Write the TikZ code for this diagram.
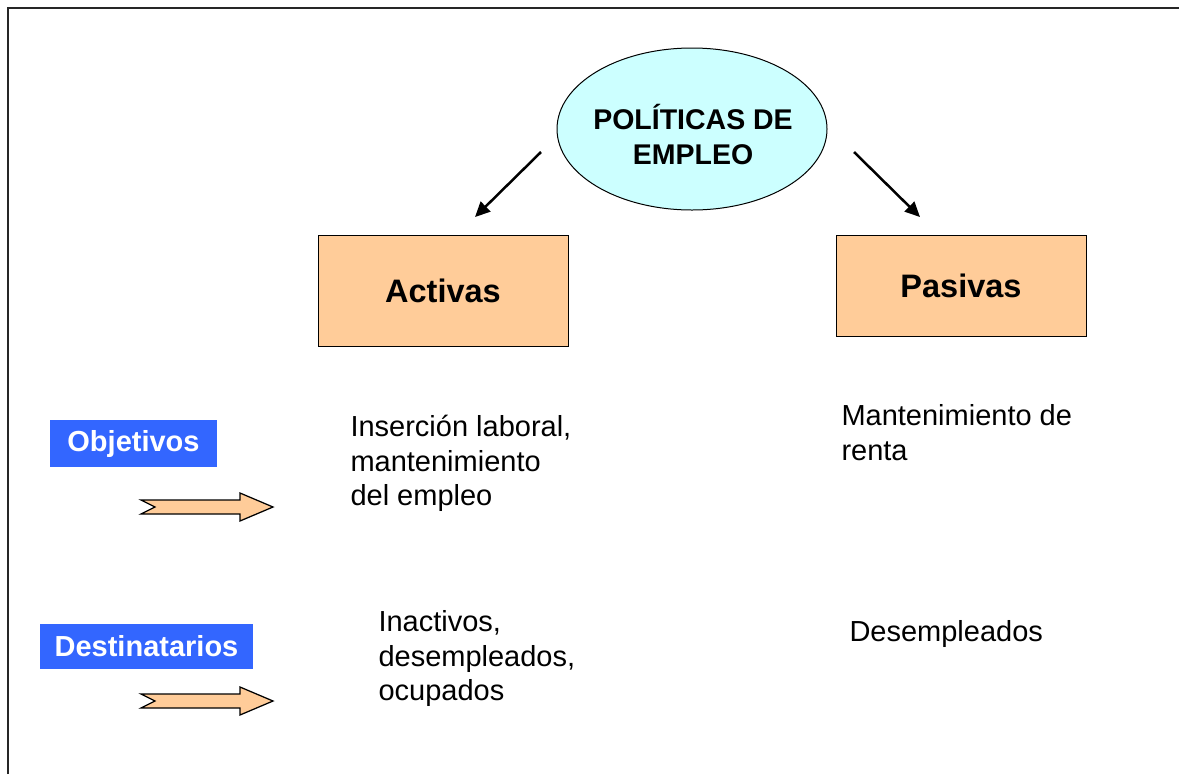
\documentclass[tikz,border=0pt]{standalone}
\usepackage{fontspec}
\setmainfont{Liberation Sans}
\definecolor{mycyan}{RGB}{204,255,255}
\definecolor{mypeach}{RGB}{255,204,153}
\definecolor{myblue}{RGB}{51,102,255}
\usetikzlibrary{shapes,arrows.meta}

\begin{document}
\begin{tikzpicture}[x=0.4pt,y=-0.4pt,
    polnode/.style={draw,ellipse,fill=mycyan,minimum width=108pt,minimum height=64.8pt,inner sep=0pt},
    tipobox/.style={draw,fill=mypeach,minimum width=100pt,inner sep=0pt,font=\fontsize{13}{15}\selectfont\bfseries},
    etiqueta/.style={fill=myblue,text=white,inner sep=0pt,font=\fontsize{11.6}{14}\selectfont\bfseries},
    texto/.style={anchor=base west,align=left,inner sep=0pt,font=\fontsize{11.6}{13.8}\selectfont},
    flecha/.style={-{Triangle[length=6pt,width=5.5pt]},line width=1pt}
    ]
    \useasboundingbox (0,0) rectangle (1179,774);

    % frame
    \draw[line width=0.8pt,black!85] (8,774) -- (8,7.5) -- (1179,7.5);

    \node (pol) [polnode] at (692,129) {};
    \node (poltxt) [anchor=base,align=center,inner sep=0pt,font=\fontsize{11.4}{13.9}\selectfont\bfseries] at (693,164) {POLÍTICAS DE\\EMPLEO};

    \node (act) [tipobox,minimum height=44.4pt] at (443,290.5) {Activas};
    \node (pas) [tipobox,minimum height=40.4pt] at (961,285.5) {Pasivas};

    % the arrows
    \coordinate (a1) at (541,152);
    \coordinate (a2) at (475,217);
    \coordinate (p1) at (854,152);
    \coordinate (p2) at (920,217);
    \draw[flecha] (a1) -- (a2);
    \draw[flecha] (p1) -- (p2);

    \node (obj) [etiqueta,minimum width=66.8pt,minimum height=18.8pt] at (133.5,443.5) {Objetivos};
    \node (dest) [etiqueta,minimum width=85.2pt,minimum height=18pt] at (146.5,646) {Destinatarios};

    \foreach \y in {507,701}
      \filldraw[fill=mypeach,line width=0.5pt] (141,\y-7) -- (240,\y-7) -- (240,\y-14) -- (273,\y)
        -- (240,\y+14) -- (240,\y+7) -- (141,\y+7) -- (155,\y) -- cycle;

    \node (objact) [texto] at (350,505.7) {Inserción laboral,\\mantenimiento\\del empleo};
    \node (objpas) [texto] at (841,460) {Mantenimiento de\\renta};
    \node (destact) [texto] at (378,700.5) {Inactivos,\\desempleados,\\ocupados};
    \node (destpas) [texto] at (849,641.5) {Desempleados};
\end{tikzpicture}
\end{document}
